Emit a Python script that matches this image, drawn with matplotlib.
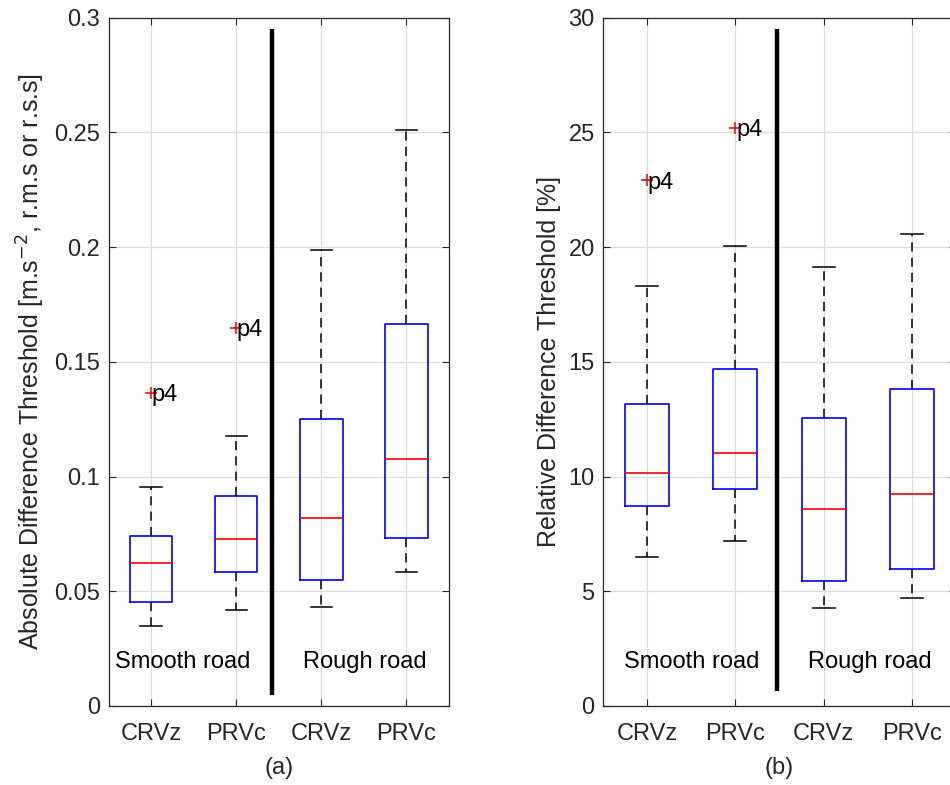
import matplotlib

matplotlib.use("Agg")
import matplotlib.pyplot as plt

plt.rcParams["font.family"] = ["Liberation Sans", "DejaVu Sans"]

CATEGORIES = ["CRVz", "PRVc", "CRVz", "PRVc"]
ROAD_LABELS = ["Smooth road", "Rough road"]

# panel (a): absolute difference threshold
ABS_WHISLO = [0.0347, 0.0420, 0.0433, 0.0583]
ABS_Q1 = [0.0453, 0.0584, 0.0551, 0.0733]
ABS_MED = [0.0623, 0.0728, 0.0821, 0.1075]
ABS_Q3 = [0.0741, 0.0917, 0.1251, 0.1664]
ABS_WHISHI = [0.0956, 0.1178, 0.1986, 0.2508]
ABS_FLIERS = [[0.1364], [0.1648], [], []]

# panel (b): relative difference threshold
REL_WHISLO = [6.49, 7.20, 4.26, 4.72]
REL_Q1 = [8.71, 9.44, 5.45, 5.98]
REL_MED = [10.15, 11.01, 8.58, 9.24]
REL_Q3 = [13.16, 14.67, 12.56, 13.81]
REL_WHISHI = [18.29, 20.03, 19.13, 20.57]
REL_FLIERS = [[22.9], [25.2], [], []]

OUTLIER_NAME = "p4"
TXT = "#262626"


def make_stats(whislo, q1, med, q3, whishi, fliers):
    return [
        {"whislo": a, "q1": b, "med": c, "q3": d, "whishi": e, "fliers": f}
        for a, b, c, d, e, f in zip(whislo, q1, med, q3, whishi, fliers)
    ]


def draw_panel(ax, stats, ylim, yticks, ytick_labels, ylabel, xlabel, divider, road_x, road_y):
    positions = [1, 2, 3, 4]
    ax.bxp(
        stats,
        positions=positions,
        widths=0.5,
        boxprops=dict(color="blue", linewidth=1.2),
        medianprops=dict(color="red", linewidth=1.2),
        whiskerprops=dict(color="black", linewidth=1.1, linestyle=(0, (6, 4))),
        capprops=dict(color="black", linewidth=1.1),
        flierprops=dict(marker="+", markeredgecolor="red", markersize=9, markeredgewidth=1.1, linestyle="none"),
        capwidths=0.25,
    )
    for pos, st in zip(positions, stats):
        for val in st["fliers"]:
            ax.annotate(OUTLIER_NAME, (pos, val), xytext=(0.5, -1.5), textcoords="offset points",
                        ha="left", va="center", fontsize=17, color="black")

    ax.plot([divider[0], divider[0]], divider[1:], color="black", linewidth=3.2, solid_capstyle="butt")
    ax.text(road_x[0], road_y, ROAD_LABELS[0], ha="center", va="center", fontsize=17, color="black")
    ax.text(road_x[1], road_y, ROAD_LABELS[1], ha="center", va="center", fontsize=17, color="black")

    ax.set_xlim(0.5, 4.5)
    ax.set_ylim(*ylim)
    ax.set_xticks(positions)
    ax.set_xticklabels(CATEGORIES)
    ax.set_yticks(yticks)
    ax.set_yticklabels(ytick_labels)
    ax.set_ylabel(ylabel, fontsize=18, color=TXT, labelpad=5)
    ax.set_xlabel(xlabel, fontsize=17, color=TXT, labelpad=9)
    ax.grid(True, color="#dddddd", linewidth=0.9)
    ax.set_axisbelow(True)
    ax.tick_params(direction="in", top=True, right=True, length=5, width=0.8,
                   labelsize=17, colors=TXT)
    ax.tick_params(axis="x", pad=12)
    ax.tick_params(axis="y", pad=6)
    for spine in ax.spines.values():
        spine.set_color(TXT)
        spine.set_linewidth(0.9)


fig = plt.figure(figsize=(9.5, 7.85), dpi=100)
W, H = 950, 785
ax1 = fig.add_axes([108.5 / W, 1 - 706 / H, 340.5 / W, 688.5 / H])
ax2 = fig.add_axes([603 / W, 1 - 706 / H, 353 / W, 688.5 / H])

draw_panel(
    ax1,
    make_stats(ABS_WHISLO, ABS_Q1, ABS_MED, ABS_Q3, ABS_WHISHI, ABS_FLIERS),
    (0, 0.3),
    [0, 0.05, 0.1, 0.15, 0.2, 0.25, 0.3],
    ["0", "0.05", "0.1", "0.15", "0.2", "0.25", "0.3"],
    "Absolute Difference Threshold [m.s$^{-2}$, r.m.s or r.s.s]",
    "(a)",
    (2.42, 0.005, 0.295),
    (1.37, 3.51),
    0.019,
)
draw_panel(
    ax2,
    make_stats(REL_WHISLO, REL_Q1, REL_MED, REL_Q3, REL_WHISHI, REL_FLIERS),
    (0, 30),
    [0, 5, 10, 15, 20, 25, 30],
    ["0", "5", "10", "15", "20", "25", "30"],
    "Relative Difference Threshold [%]",
    "(b)",
    (2.47, 0.65, 29.5),
    (1.5, 3.52),
    1.9,
)

fig.savefig("out.png", dpi=100, facecolor="white")
